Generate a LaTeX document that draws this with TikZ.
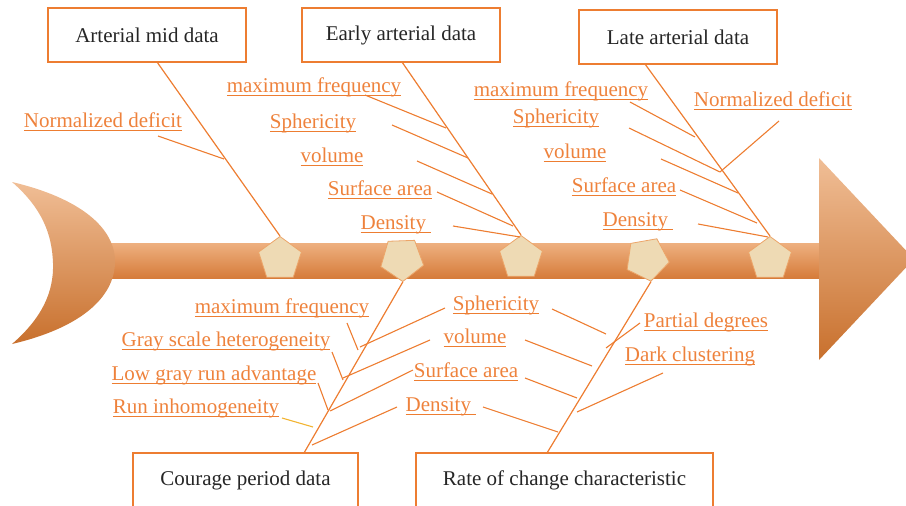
\documentclass[tikz,border=0pt]{standalone}
\usepackage{fontspec}
\setmainfont{Liberation Serif}
\usetikzlibrary{shapes.geometric}
\definecolor{org}{RGB}{237,125,49}
\definecolor{labc}{RGB}{238,130,60}
\definecolor{txt}{RGB}{38,38,38}
\definecolor{ylw}{RGB}{242,180,50}
\definecolor{spT}{RGB}{238,176,128}
\definecolor{spB}{RGB}{214,124,58}
\definecolor{hdT}{RGB}{240,190,150}
\definecolor{hdB}{RGB}{200,112,45}
\definecolor{pfill}{RGB}{238,218,180}
\definecolor{pdraw}{RGB}{236,165,105}
\newcommand\ulin[1]{\setbox0\hbox{#1}\rlap{\color{org}\rule[-4pt]{\wd0}{1.3pt}}\box0}
\tikzset{
  box/.style={draw=org, line width=1.2pt, fill=white, minimum height=54pt, inner sep=0pt,
    font=\fontsize{21}{24}\selectfont, text=txt},
  lab/.style={font=\fontsize{21}{24}\selectfont, text=labc, inner sep=0pt, anchor=base},
  bone/.style={draw=org, line width=1.2pt},
  br/.style={draw=org, line width=1.1pt},
  pent/.style={regular polygon, regular polygon sides=5, minimum size=45pt, inner sep=0pt,
    fill=pfill, draw=pdraw, line width=0.8pt}
}
\begin{document}
\begin{tikzpicture}[x=1pt,y=-1pt]
\useasboundingbox (0,0) rectangle (906,506);
\clip (0,0) rectangle (906,506);
% spine, tail, head
\shade[top color=spT, bottom color=spB] (100,243) rectangle (822,278);
\shade[top color=hdT, bottom color=hdB] (12,182) .. controls (80,198) and (116,228) .. (115,263)
  .. controls (114,298) and (80,328) .. (12,344)
  .. controls (42,318) and (54,292) .. (53,263)
  .. controls (52,234) and (42,208) .. (12,182) -- cycle;
\shade[top color=hdT, bottom color=hdB] (819,158) -- (914,259) -- (819,360) -- cycle;
% pentagons
\node[pent] (P1) at (280,259) {};
\node[pent, rotate=182] (P2) at (402,259) {};
\node[pent] (P3) at (521,258) {};
\node[pent, rotate=190] (P4) at (647,259) {};
\node[pent] (P5) at (770,259) {};
% boxes
\node[box, minimum width=198pt] (A) at (147,35) {Arterial mid data};
\node[box, minimum width=198pt] (B) at (401,35) {Early arterial data};
\node[box, minimum width=198pt] (C) at (678,37) {Late arterial data};
\node[box, minimum width=225pt] (D) at (245.5,480) {Courage period data};
\node[box, minimum width=297pt] (E) at (564.5,480) {Rate of change characteristic};
% bone anchors
\coordinate (a0) at (157,62);  \coordinate (a1) at (P1.corner 1);
\coordinate (b0) at (402,62);  \coordinate (b1) at (P3.corner 1);
\coordinate (c0) at (645,64);  \coordinate (c1) at (P5.corner 1);
\coordinate (d0) at (304,453); \coordinate (d1) at (P2.corner 1);
\coordinate (e0) at (547,453); \coordinate (e1) at (P4.corner 1);
\draw[bone] (a0) -- (a1);
\draw[bone] (b0) -- (b1);
\draw[bone] (c0) -- (c1);
\draw[bone] (d0) -- (d1);
\draw[bone] (e0) -- (e1);
% labels top-left
\node[lab] (l1) at (103,127) {\ulin{Normalized deficit}};
% labels early arterial
\node[lab] (l2) at (314,92) {\ulin{maximum frequency}};
\node[lab] (l3) at (313,128) {\ulin{Sphericity}};
\node[lab] (l4) at (332,162) {\ulin{volume}};
\node[lab] (l5) at (380,195) {\ulin{Surface area}};
\node[lab] (l6) at (396,229) {\ulin{Density\ }};
% labels late arterial
\node[lab] (l7) at (561,96) {\ulin{maximum frequency}};
\node[lab] (l8) at (556,123) {\ulin{Sphericity}};
\node[lab] (l9) at (773,106) {\ulin{Normalized deficit}};
\node[lab] (l10) at (575,158) {\ulin{volume}};
\node[lab] (l11) at (624,192) {\ulin{Surface area}};
\node[lab] (l12) at (638,226) {\ulin{Density\ }};
% labels courage period
\node[lab] (l13) at (282,313) {\ulin{maximum frequency}};
\node[lab] (l14) at (226,346) {\ulin{Gray scale heterogeneity}};
\node[lab] (l15) at (214,380) {\ulin{Low gray run advantage}};
\node[lab] (l16) at (196,413) {\ulin{Run inhomogeneity}};
% labels middle bottom
\node[lab] (l17) at (496,310) {\ulin{Sphericity}};
\node[lab] (l18) at (475,343) {\ulin{volume}};
\node[lab] (l19) at (466,377) {\ulin{Surface area}};
\node[lab] (l20) at (441,411) {\ulin{Density\ }};
% labels right bottom
\node[lab] (l21) at (706,327) {\ulin{Partial degrees}};
\node[lab] (l22) at (690,361) {\ulin{Dark clustering}};
% branches of arterial mid
\draw[br] (158,136) -- (224,159);
% branches of early arterial
\draw[br] (365,95) -- (446,128);
\draw[br] (392,125) -- (468,158);
\draw[br] (417,161) -- (492,194);
\draw[br] (437,192) -- (513,226);
\draw[br] (453,226) -- (520,237);
% branches of late arterial
\draw[br] (630,102) -- (695,137);
\draw[br] (629,128) -- (720,172);
\draw[br] (779,121) -- (720,172);
\draw[br] (661,159) -- (738,193);
\draw[br] (680,190) -- (757,223);
\draw[br] (698,224) -- (768,237);
% branches of courage period
\draw[br] (347,323) -- (358,350);
\draw[br] (332,352) -- (343,380);
\draw[br] (318,383) -- (328,410);
\draw[br, draw=ylw] (282,418) -- (313,427);
\draw[br] (445,308) -- (360,347);
\draw[br] (430,340) -- (343,378);
\draw[br] (413,370) -- (330,411);
\draw[br] (397,407) -- (312,445);
% branches of rate of change
\draw[br] (552,309) -- (606,334);
\draw[br] (640,323) -- (606,348);
\draw[br] (525,340) -- (592,366);
\draw[br] (525,378) -- (577,398);
\draw[br] (663,373) -- (577,412);
\draw[br] (483,407) -- (558,432);
\end{tikzpicture}
\end{document}
